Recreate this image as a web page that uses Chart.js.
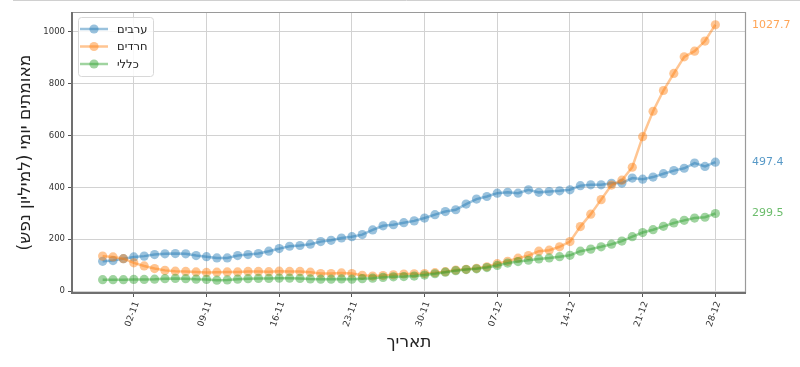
<!DOCTYPE html>
<html><head><meta charset="utf-8">
<script src="https://cdn.jsdelivr.net/npm/chart.js@4.4.1/dist/chart.umd.min.js"></script>
<style>html,body{margin:0;padding:0;background:#fff;overflow:hidden}canvas{display:block}</style>
</head><body>
<canvas id="c" width="800" height="367"></canvas>
<script>
const dates = ['30-10','31-10','01-11','02-11','03-11','04-11','05-11','06-11','07-11','08-11',
  '09-11','10-11','11-11','12-11','13-11','14-11','15-11','16-11','17-11','18-11',
  '19-11','20-11','21-11','22-11','23-11','24-11','25-11','26-11','27-11','28-11',
  '29-11','30-11','01-12','02-12','03-12','04-12','05-12','06-12','07-12','08-12',
  '09-12','10-12','11-12','12-12','13-12','14-12','15-12','16-12','17-12','18-12',
  '19-12','20-12','21-12','22-12','23-12','24-12','25-12','26-12','27-12','28-12'];
const arabs = [115,118,125,132,135,141,144,145,144,137,
  133,128,128,137,141,145,154,164,173,176,
  181,191,196,205,210,218,236,252,256,264,
  271,282,295,307,314,336,355,365,378,381,
  378,391,381,384,387,391,407,410,410,416,
  417,436,432,440,453,465,474,494,481,497.4];
const haredim = [135,132,125,109,97,87,80,77,76,74,
  72,73,74,74,76,76,75,77,76,76,
  73,68,68,70,68,61,58,60,63,66,
  67,68,71,75,81,84,88,94,106,115,
  127,137,154,158,171,191,249,297,353,409,
  428,478,596,694,774,840,904,926,965,1027.7];
const general = [44,44,44,45,45,46,48,49,48,46,
  45,42,43,46,48,49,49,50,50,49,
  47,46,46,47,46,48,50,53,55,56,
  58,62,67,73,79,83,86,91,99,108,
  114,119,124,128,133,138,154,162,171,181,
  193,210,226,237,250,263,273,282,285,299.5];
const seriesNames = ['ערבים','חרדים','כללי'];
const tickLabels = ['02-11','09-11','16-11','23-11','30-11','07-12','14-12','21-12','28-12'];
const yTicks = [0,200,400,600,800,1000];
const yTitle = 'מאומתים יומי (למיליון נפש)';
const xTitle = 'תאריך';

const baseRGB = ['31,119,180','255,127,14','44,160,44'];
const FONT = '"DejaVu Sans", sans-serif';
const ALPHA = 0.45;

function toPts(arr){ return arr.map((v,i)=>({x:i,y:v})); }

const seriesData = [arabs, haredim, general];
const datasets = seriesData.map((arr,k)=>({
  label: seriesNames[k],
  data: toPts(arr),
  borderColor: 'rgba('+baseRGB[k]+','+ALPHA+')',
  backgroundColor: 'rgba('+baseRGB[k]+','+ALPHA+')',
  pointBackgroundColor: 'rgba('+baseRGB[k]+','+ALPHA+')',
  pointBorderColor: 'rgba('+baseRGB[k]+','+ALPHA+')',
  pointBorderWidth: 0,
  pointRadius: 4.6,
  pointHoverRadius: 4.6,
  borderWidth: 2.5,
  tension: 0,
  fill: false,
  order: 2-k
}));

const decor = {
  id: 'decor',
  afterDraw(chart){
    const ctx = chart.ctx, a = chart.chartArea;
    const ys = chart.scales.y;
    ctx.save();
    ctx.strokeStyle = '#d0d0d0'; ctx.lineWidth = 1;
    ctx.beginPath(); ctx.moveTo(13,0.5); ctx.lineTo(800,0.5); ctx.stroke();
    // frame
    ctx.strokeStyle = '#9a9a9a'; ctx.lineWidth = 1.2;
    ctx.beginPath(); ctx.moveTo(a.left, a.top+0.5); ctx.lineTo(a.right-0.5, a.top+0.5); ctx.lineTo(a.right-0.5, a.bottom); ctx.stroke();
    ctx.strokeStyle = '#707070'; ctx.lineWidth = 2;
    ctx.beginPath(); ctx.moveTo(a.left, a.top); ctx.lineTo(a.left, a.bottom); ctx.lineTo(a.right, a.bottom); ctx.stroke();
    // legend
    const lx = 78, ly = 17, lw = 75, lh = 59;
    ctx.fillStyle = 'rgba(255,255,255,0.85)';
    ctx.strokeStyle = '#d8d8d8'; ctx.lineWidth = 1;
    ctx.beginPath();
    if (ctx.roundRect) ctx.roundRect(lx+0.5, ly+0.5, lw, lh, 3); else ctx.rect(lx+0.5, ly+0.5, lw, lh);
    ctx.fill(); ctx.stroke();
    const rowY = [29, 46.5, 64];
    for (let k=0;k<3;k++){
      const c = 'rgba('+baseRGB[k]+','+ALPHA+')';
      ctx.strokeStyle = c; ctx.lineWidth = 2.5;
      ctx.beginPath(); ctx.moveTo(80,rowY[k]); ctx.lineTo(108,rowY[k]); ctx.stroke();
      ctx.fillStyle = c;
      ctx.beginPath(); ctx.arc(94,rowY[k],4.6,0,Math.PI*2); ctx.fill();
      ctx.fillStyle = '#222';
      ctx.font = '11.5px ' + FONT;
      ctx.direction = 'rtl';
      ctx.textAlign = 'left'; ctx.textBaseline = 'middle';
      ctx.fillText(seriesNames[k], 117, rowY[k]+1);
    }
    ctx.direction = 'ltr';
    const labelAlpha = [0.75,0.7,0.7];
    for (let k=0;k<3;k++){
      const arr = seriesData[k];
      const v = arr[arr.length-1];
      ctx.fillStyle = 'rgba('+baseRGB[k]+','+labelAlpha[k]+')';
      ctx.font = '11px ' + FONT;
      ctx.textAlign = 'left'; ctx.textBaseline = 'middle';
      ctx.fillText(v.toFixed(1), 752, ys.getPixelForValue(v));
    }
    ctx.fillStyle = '#222';
    ctx.font = '17px ' + FONT;
    ctx.direction = 'rtl';
    ctx.textAlign = 'center'; ctx.textBaseline = 'middle';
    ctx.fillText(xTitle, (a.left+a.right)/2, 343);
    ctx.translate(26, (a.top+a.bottom)/2);
    ctx.rotate(-Math.PI/2);
    ctx.fillText(yTitle, 0, 0);
    ctx.restore();
  }
};

new Chart(document.getElementById('c'), {
  type: 'line',
  data: { datasets },
  options: {
    responsive: false,
    animation: false,
    devicePixelRatio: 1,
    layout: { padding: { left: 0, top: 12, right: 54, bottom: 0 } },
    plugins: { legend: { display: false }, tooltip: { enabled: false } },
    scales: {
      x: {
        type: 'linear',
        min: -2.95, max: 61.95,
        afterBuildTicks: s => { s.ticks = tickLabels.map(l => ({ value: dates.indexOf(l) })); },
        afterFit: s => { s.height = 74; },
        ticks: {
          callback: v => dates[v],
          autoSkip: false, minRotation: 70, maxRotation: 70,
          font: { family: FONT, size: 9 }, color: '#333', padding: 3, labelOffset: 3
        },
        grid: { color: '#d2d2d2', lineWidth: 1, tickLength: 4, tickColor: '#555' },
        border: { display: false }
      },
      y: {
        type: 'linear',
        min: -7.3, max: 1077,
        afterBuildTicks: s => { s.ticks = yTicks.map(v => ({ value: v })); },
        afterFit: s => { s.width = 72; },
        ticks: { callback: v => String(v), font: { family: FONT, size: 8.5 }, color: '#333', padding: 3 },
        grid: { color: '#d2d2d2', lineWidth: 1, tickLength: 4, tickColor: '#555' },
        border: { display: false }
      }
    }
  },
  plugins: [decor]
});
</script>
</body></html>
